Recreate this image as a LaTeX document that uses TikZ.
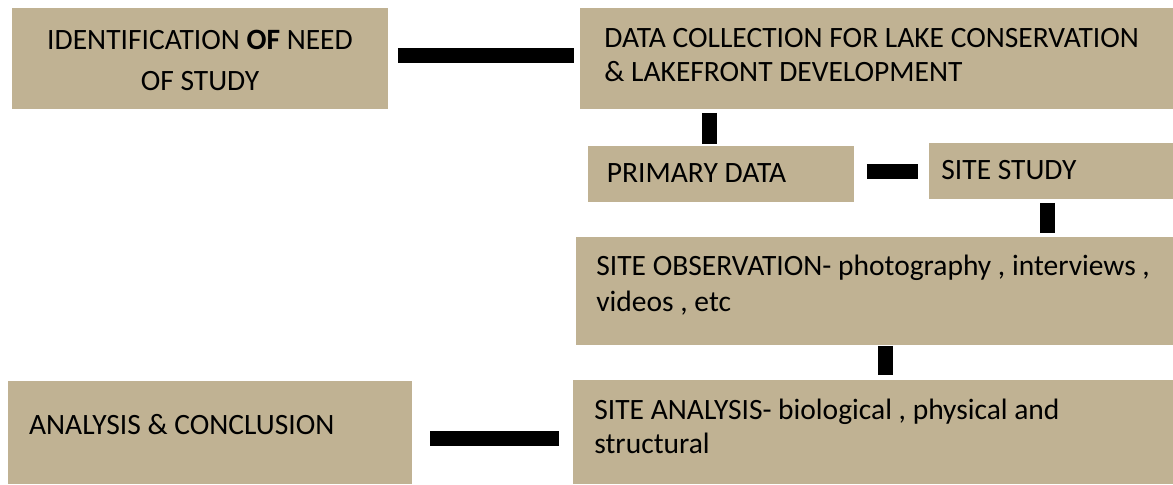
\documentclass[tikz,border=0pt]{standalone}
\usepackage{fontspec}
\setmainfont{Carlito}
\definecolor{boxtan}{RGB}{192,178,147}

\begin{document}
\begin{tikzpicture}[x=0.5pt,y=-0.5pt,
box/.style = {fill = boxtan, inner sep = 0pt, anchor = north west},
txt/.style = {inner sep = 0pt, anchor = base west, align = left, font = \fontsize{14.75}{17}\selectfont},
bar/.style = {line width = 7.5pt},]
\useasboundingbox (0,0) rectangle (1173,484);
% boxes
\node (b1) at (12,8)[box,minimum width=188pt,minimum height=50.5pt] {};
\node (b2) at (580,8)[box,minimum width=296.5pt,minimum height=50.5pt] {};
\node (b3) at (588,146)[box,minimum width=133pt,minimum height=28pt] {};
\node (b4) at (929,143)[box,minimum width=122pt,minimum height=28pt] {};
\node (b5) at (576,237)[box,minimum width=298.5pt,minimum height=54pt] {};
\node (b6) at (573,380)[box,minimum width=300pt,minimum height=52pt] {};
\node (b7) at (8,381)[box,minimum width=202pt,minimum height=51.5pt] {};
% texts (base = last line)
\node (t1) at (200,90)[txt,anchor=base,align=center] {IDENTIFICATION \textbf{OF} NEED\\[3.5pt]OF STUDY};
\node (t2) at (604,81)[txt] {DATA COLLECTION FOR LAKE CONSERVATION\\\& LAKEFRONT DEVELOPMENT};
\node (t3) at (606.5,182)[txt] {PRIMARY DATA};
\node (t4) at (941,179)[txt] {SITE STUDY};
\node (t5) at (596,311)[txt] {SITE OBSERVATION- photography , interviews ,\\[1pt]videos , etc};
\node (t6) at (594,453)[txt] {SITE ANALYSIS- biological , physical and\\structural};
\node (t7) at (28.7,434)[txt] {ANALYSIS \& CONCLUSION};
% connectors
\draw[bar,shorten <=4.5pt,shorten >=3pt] (b1.east |- 0,55) -- (b2.west |- 0,55);
\draw[bar,shorten <=1.5pt,shorten >=1pt] (b2.south -| 709.5,0) -- (b3.north -| 709.5,0);
\draw[bar,shorten <=6pt,shorten >=5.5pt] (b3.east |- 0,171) -- (b4.west |- 0,171);
\draw[bar,shorten <=1.5pt,shorten >=2pt] (b4.south -| 1047,0) -- (b5.north -| 1047,0);
\draw[bar,shorten >=2.5pt] (b5.south -| 885,0) -- (b6.north -| 885,0);
\draw[bar,shorten <=7pt,shorten >=8.5pt] (b6.west |- 0,438) -- (b7.east |- 0,438);
\end{tikzpicture}
\end{document}
